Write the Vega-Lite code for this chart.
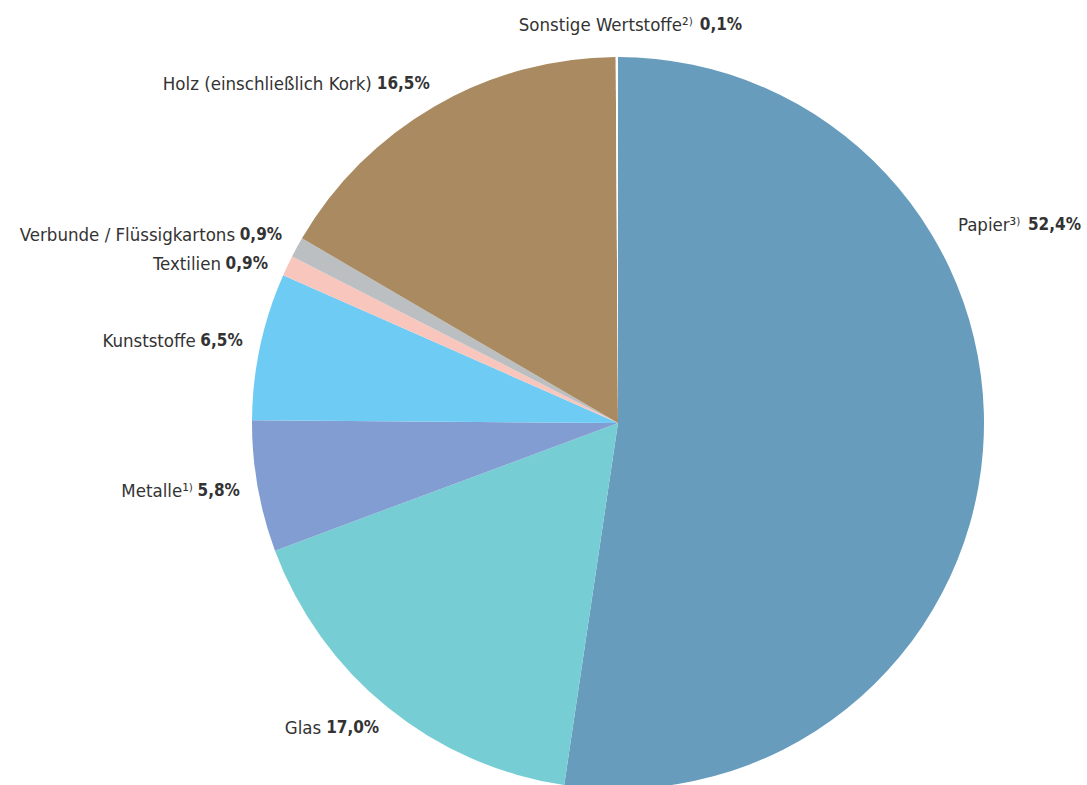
{
  "$schema": "https://vega.github.io/schema/vega-lite/v6.json",
  "autosize": {"type": "none"},
  "width": 938,
  "height": 724,
  "padding": {"left": 149, "top": 61, "right": 0, "bottom": 0},
  "background": "white",
  "config": {"view": {"stroke": null}, "text": {"font": "DejaVu Sans Condensed, sans-serif", "fontSize": 18.5, "color": "#333333"}},
  "data": {"values": [
    {"idx": 1, "cat": "Papier", "name": "Papier³⁾", "value": 52.4, "pct": "52,4%"},
    {"idx": 2, "cat": "Glas", "name": "Glas", "value": 17.0, "pct": "17,0%"},
    {"idx": 3, "cat": "Metalle", "name": "Metalle¹⁾", "value": 5.8, "pct": "5,8%"},
    {"idx": 4, "cat": "Kunststoffe", "name": "Kunststoffe", "value": 6.5, "pct": "6,5%"},
    {"idx": 5, "cat": "Textilien", "name": "Textilien", "value": 0.9, "pct": "0,9%"},
    {"idx": 6, "cat": "Verbunde", "name": "Verbunde / Flüssigkartons", "value": 0.9, "pct": "0,9%"},
    {"idx": 7, "cat": "Holz", "name": "Holz (einschließlich Kork)", "value": 16.5, "pct": "16,5%"},
    {"idx": 8, "cat": "Sonstige", "name": "Sonstige Wertstoffe²⁾", "value": 0.1, "pct": "0,1%"}
  ]},
  "encoding": {
    "theta": {"field": "value", "type": "quantitative", "stack": true},
    "order": {"field": "idx", "type": "quantitative"}
  },
  "layer": [
    {
      "mark": {"type": "arc", "radius": 366},
      "encoding": {
        "color": {
          "field": "cat", "type": "nominal", "legend": null,
          "scale": {
            "domain": ["Papier", "Glas", "Metalle", "Kunststoffe", "Textilien", "Verbunde", "Holz", "Sonstige"],
            "range": ["#679cbd", "#77cdd4", "#829dd1", "#6ecbf3", "#f9c6bd", "#bcbfc1", "#a98a61", "#ffffff"]
          }
        }
      }
    },
    {
      "mark": {"type": "text", "radius": 392, "align": "right", "baseline": "middle", "dx": 8, "fontWeight": "bold", "fontSize": 17},
      "encoding": {
        "text": {"condition": {"test": "datum.cat !== 'Papier' && datum.cat !== 'Sonstige' && datum.cat !== 'Textilien'", "field": "pct"}, "value": ""}
      }
    },
    {
      "mark": {"type": "text", "radius": 392, "align": "right", "baseline": "middle", "dx": -39},
      "encoding": {
        "text": {"condition": {"test": "datum.cat !== 'Papier' && datum.cat !== 'Sonstige' && datum.cat !== 'Textilien' && length(datum.pct) == 4", "field": "name"}, "value": ""}
      }
    },
    {
      "mark": {"type": "text", "radius": 392, "align": "right", "baseline": "middle", "dx": -50},
      "encoding": {
        "text": {"condition": {"test": "datum.cat !== 'Papier' && datum.cat !== 'Sonstige' && length(datum.pct) == 5", "field": "name"}, "value": ""}
      }
    },
    {
      "mark": {"type": "text", "radius": 392, "align": "right", "baseline": "middle", "dx": 4, "dy": 9, "fontWeight": "bold", "fontSize": 17},
      "encoding": {
        "text": {"condition": {"test": "datum.cat === 'Textilien'", "field": "pct"}, "value": ""}
      }
    },
    {
      "mark": {"type": "text", "radius": 392, "align": "right", "baseline": "middle", "dx": -43, "dy": 9},
      "encoding": {
        "text": {"condition": {"test": "datum.cat === 'Textilien'", "field": "name"}, "value": ""}
      }
    },
    {
      "mark": {"type": "text", "radius": 392, "align": "left", "baseline": "middle", "dx": -51, "dy": -227},
      "encoding": {
        "text": {"condition": {"test": "datum.cat === 'Papier'", "field": "name"}, "value": ""}
      }
    },
    {
      "mark": {"type": "text", "radius": 392, "align": "left", "baseline": "middle", "dx": 19, "dy": -227, "fontWeight": "bold", "fontSize": 17},
      "encoding": {
        "text": {"condition": {"test": "datum.cat === 'Papier'", "field": "pct"}, "value": ""}
      }
    },
    {
      "mark": {"type": "text", "radius": 392, "align": "right", "baseline": "middle", "dx": 76, "dy": -6},
      "encoding": {
        "text": {"condition": {"test": "datum.cat === 'Sonstige'", "field": "name"}, "value": ""}
      }
    },
    {
      "mark": {"type": "text", "radius": 392, "align": "left", "baseline": "middle", "dx": 83, "dy": -6, "fontWeight": "bold", "fontSize": 17},
      "encoding": {
        "text": {"condition": {"test": "datum.cat === 'Sonstige'", "field": "pct"}, "value": ""}
      }
    }
  ]
}
